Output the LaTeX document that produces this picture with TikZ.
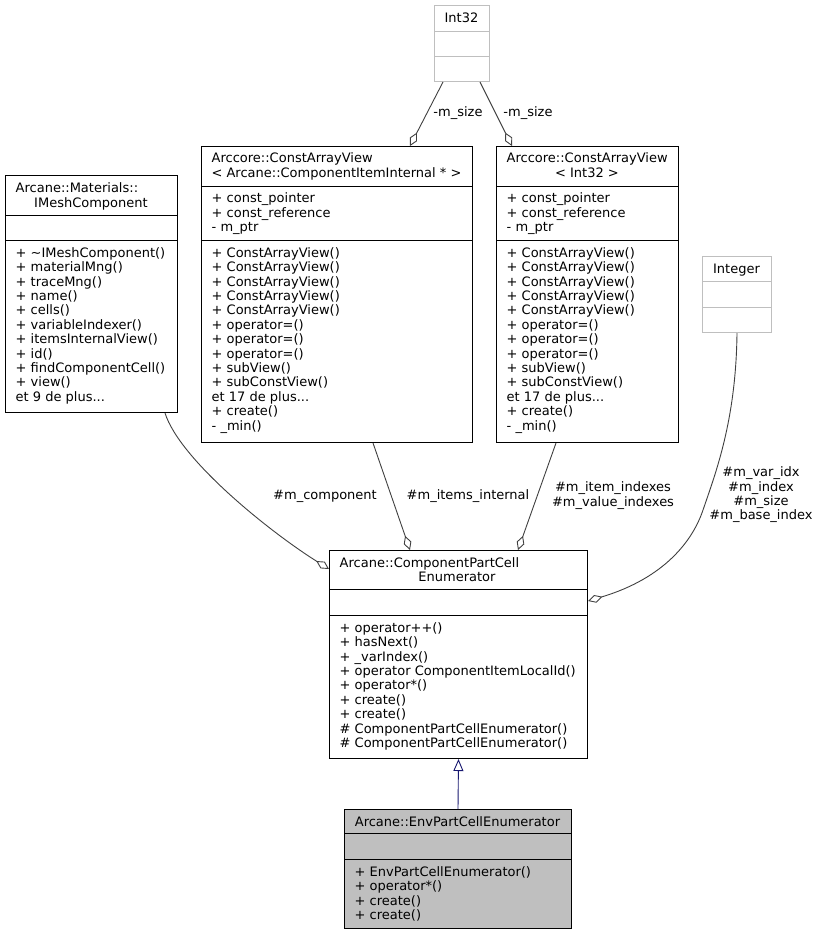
\documentclass[tikz,border=0pt]{standalone}
\usepackage{fontspec}
\setmainfont{DejaVu Sans}
\usetikzlibrary{arrows.meta,calc}
\definecolor{edgec}{HTML}{404040}
\definecolor{navyc}{HTML}{191970}
\definecolor{lgray}{HTML}{BFBFBF}
\begin{document}
\begin{tikzpicture}[x=1pt,y=-1pt,
  every node/.style={font=\fontsize{13}{14.4}\selectfont},
  cls/.style={draw=black, line width=1pt, fill=white, inner sep=0pt, anchor=north west},
  gcls/.style={cls, draw=lgray},
  envcls/.style={cls, fill=lgray},
  txt/.style={anchor=north west, inner sep=0pt, align=left, yshift=10.08pt},
  lft/.style={anchor=base west, inner sep=0pt},
  ctr/.style={anchor=base, inner sep=0pt},
  div/.style={draw=black, line width=1pt},
  gdiv/.style={draw=lgray, line width=1pt},
  agg/.style={draw=edgec, line width=0.9pt, -{Diamond[open,length=15pt,width=8pt]}},
  inh/.style={draw=navyc, line width=0.9pt, -{Triangle[open,length=12pt,width=10pt]}},
  lbl/.style={anchor=north, inner sep=0pt, align=center, yshift=10.08pt}
]
\useasboundingbox (0,0) rectangle (819,935);

% ---------- Int32 ----------
\node[gcls, minimum width=55pt, minimum height=76pt] (int32) at (434,5) {};
\draw[gdiv] ($(int32.north west)+(0,26)$) -- ($(int32.north east)+(0,26)$);
\draw[gdiv] ($(int32.north west)+(0,51)$) -- ($(int32.north east)+(0,51)$);
\node[ctr] (int32t) at (461.5,22) {Int32};

% ---------- Integer ----------
\node[gcls, minimum width=69pt, minimum height=76pt] (integer) at (702,256) {};
\draw[gdiv] ($(integer.north west)+(0,25)$) -- ($(integer.north east)+(0,25)$);
\draw[gdiv] ($(integer.north west)+(0,51)$) -- ($(integer.north east)+(0,51)$);
\node[ctr] (integert) at (736.5,273) {Integer};

% ---------- IMeshComponent ----------
\node[cls, minimum width=172pt, minimum height=237pt] (imesh) at (5,175) {};
\draw[div] ($(imesh.north west)+(0,40)$) -- ($(imesh.north east)+(0,40)$);
\draw[div] ($(imesh.north west)+(0,65)$) -- ($(imesh.north east)+(0,65)$);
\node[lft] (imesht1) at (15.5,192.5) {Arcane::Materials::};
\node[ctr] (imesht2) at (91,207) {IMeshComponent};
\node[txt] (imeshm) at (15.5,257) {\strut + \textasciitilde IMeshComponent()\\
+ materialMng()\\
+ traceMng()\\
+ name()\\
+ cells()\\
+ variableIndexer()\\
+ itemsInternalView()\\
+ id()\\
+ findComponentCell()\\
+ view()\\
et 9 de plus...};

% ---------- ConstArrayView< ComponentItemInternal * > ----------
\node[cls, minimum width=271pt, minimum height=296pt] (cav1) at (201,146) {};
\draw[div] ($(cav1.north west)+(0,40)$) -- ($(cav1.north east)+(0,40)$);
\draw[div] ($(cav1.north west)+(0,94)$) -- ($(cav1.north east)+(0,94)$);
\node[lft] (cav1t1) at (211.5,162.5) {Arccore::ConstArrayView};
\node[ctr] (cav1t2) at (336.5,177) {< Arcane::ComponentItemInternal * >};
\node[txt] (cav1a) at (211.5,202.5) {\strut + const\_pointer\\
+ const\_reference\\
- m\_ptr};
\node[txt] (cav1m) at (211.5,257) {\strut + ConstArrayView()\\
+ ConstArrayView()\\
+ ConstArrayView()\\
+ ConstArrayView()\\
+ ConstArrayView()\\
+ operator=()\\
+ operator=()\\
+ operator=()\\
+ subView()\\
+ subConstView()\\
et 17 de plus...\\
+ create()\\
- \_min()};

% ---------- ConstArrayView< Int32 > ----------
\node[cls, minimum width=182pt, minimum height=296pt] (cav2) at (496,146) {};
\draw[div] ($(cav2.north west)+(0,40)$) -- ($(cav2.north east)+(0,40)$);
\draw[div] ($(cav2.north west)+(0,94)$) -- ($(cav2.north east)+(0,94)$);
\node[lft] (cav2t1) at (506.5,162.5) {Arccore::ConstArrayView};
\node[ctr] (cav2t2) at (587,177) {< Int32 >};
\node[txt] (cav2a) at (506.5,202.5) {\strut + const\_pointer\\
+ const\_reference\\
- m\_ptr};
\node[txt] (cav2m) at (506.5,257) {\strut + ConstArrayView()\\
+ ConstArrayView()\\
+ ConstArrayView()\\
+ ConstArrayView()\\
+ ConstArrayView()\\
+ operator=()\\
+ operator=()\\
+ operator=()\\
+ subView()\\
+ subConstView()\\
et 17 de plus...\\
+ create()\\
- \_min()};

% ---------- ComponentPartCellEnumerator ----------
\node[cls, minimum width=258pt, minimum height=208pt] (cpce) at (329,550) {};
\draw[div] ($(cpce.north west)+(0,39)$) -- ($(cpce.north east)+(0,39)$);
\draw[div] ($(cpce.north west)+(0,65)$) -- ($(cpce.north east)+(0,65)$);
\node[lft] (cpcet1) at (339.5,567) {Arcane::ComponentPartCell};
\node[ctr] (cpcet2) at (457,581.5) {Enumerator};
\node[txt] (cpcem) at (339.5,632) {\strut + operator++()\\
+ hasNext()\\
+ \_varIndex()\\
+ operator ComponentItemLocalId()\\
+ operator*()\\
+ create()\\
+ create()\\
\# ComponentPartCellEnumerator()\\
\# ComponentPartCellEnumerator()};

% ---------- EnvPartCellEnumerator ----------
\node[envcls, minimum width=227pt, minimum height=119pt] (env) at (344,809) {};
\draw[div] ($(env.north west)+(0,24)$) -- ($(env.north east)+(0,24)$);
\draw[div] ($(env.north west)+(0,50)$) -- ($(env.north east)+(0,50)$);
\node[ctr] (envt) at (457.5,826) {Arcane::EnvPartCellEnumerator};
\node[txt] (envm) at (354.5,876) {\strut + EnvPartCellEnumerator()\\
+ operator*()\\
+ create()\\
+ create()};

% ---------- connectors ----------
\draw[inh] (env.north) -- (cpce.south);

\draw[agg] ($(int32.south west)+(9,0)$) -- ($(cav1.north west)+(209,0)$);
\draw[agg] ($(int32.south west)+(46,0)$) -- ($(cav2.north west)+(16,0)$);
\node[lbl] (lsz1) at (458,116.5) {\strut -m\_size};
\node[lbl] (lsz2) at (528,116.5) {\strut -m\_size};

\draw[agg] ($(imesh.south west)+(160,0)$) .. controls (180,460) and (270,532) .. ($(cpce.north west)+(0,19)$);
\node[lbl] (lcomp) at (325,499) {\strut \#m\_component};

\draw[agg] ($(cav1.south west)+(172,0)$) -- ($(cpce.north west)+(81,0)$);
\node[lbl] (litems) at (468,499) {\strut \#m\_items\_internal};

\draw[agg] ($(cav2.south west)+(60,0)$) -- ($(cpce.north west)+(189,0)$);
\node[lbl] (lidx) at (613,491.7) {\strut \#m\_item\_indexes\\\#m\_value\_indexes};

\coordinate (intmid) at (703,510);
\draw[agg] (integer.south) .. controls (736,420) and (716,472) .. (intmid)
  .. controls (693,540) and (665,578) .. ($(cpce.north east)+(0,51)$);
\node[lbl] (lint) at (761,476.5) {\strut \#m\_var\_idx\\\#m\_index\\\#m\_size\\\#m\_base\_index};
\end{tikzpicture}
\end{document}
